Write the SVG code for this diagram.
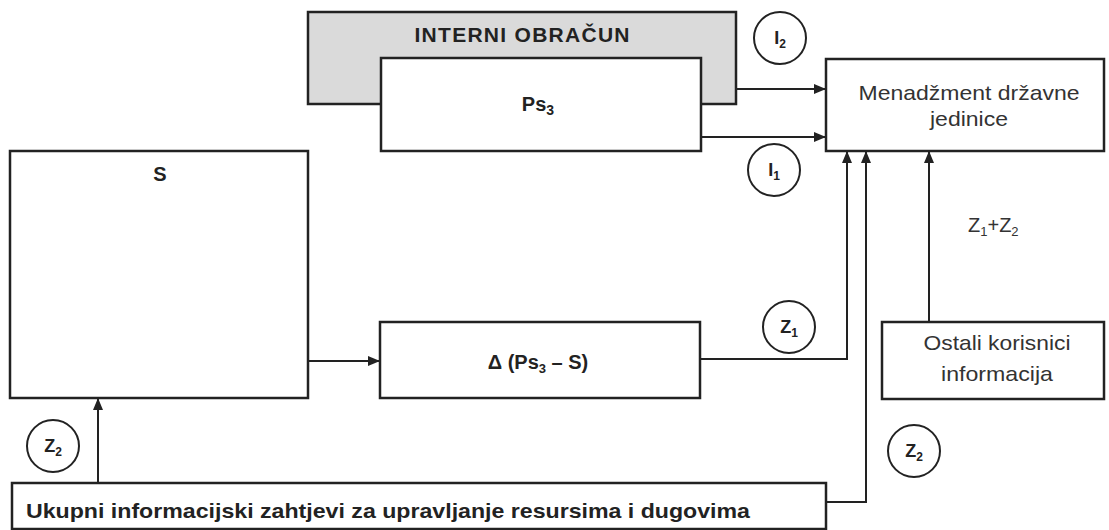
<svg xmlns="http://www.w3.org/2000/svg" width="1109" height="530" viewBox="0 0 1109 530">
<style>
.box{fill:#fff;stroke:#222;stroke-width:2.5}
.gray{fill:#dadada;stroke:#222;stroke-width:2.5}
.conn{fill:none;stroke:#222;stroke-width:2}
.circ{fill:#fff;stroke:#222;stroke-width:2}
.b{font-family:"Liberation Sans",Arial,sans-serif;font-weight:bold;fill:#222}
.r{font-family:"Liberation Sans",Arial,sans-serif;fill:#333}
.c{font-family:"Liberation Sans",Arial,sans-serif;font-weight:bold;fill:#222;font-size:18px}
</style>
<defs>
<marker id="arr" markerUnits="userSpaceOnUse" markerWidth="12" markerHeight="10" refX="12" refY="5" orient="auto">
<path d="M0,0 L12,5 L0,10 z" fill="#222"/>
</marker>
</defs>
<rect width="1109" height="530" fill="#fff"/>
<g id="interni-obracun">
<rect class="gray" x="308" y="12" width="428" height="92"/>
<text class="b" x="522" y="42" font-size="21" text-anchor="middle" textLength="215" lengthAdjust="spacing">INTERNI OBRAČUN</text>
</g>
<g id="ps3">
<rect class="box" x="381" y="58" width="320" height="93"/>
<text class="b" x="538" y="111" font-size="20" text-anchor="middle">Ps<tspan font-size="14" dy="4">3</tspan></text>
</g>
<g id="menadzment">
<rect class="box" x="826" y="59" width="278" height="92"/>
<text class="r" x="969" y="100" font-size="21" text-anchor="middle" textLength="221" lengthAdjust="spacingAndGlyphs">Menadžment državne</text>
<text class="r" x="969" y="126" font-size="21" text-anchor="middle" textLength="78" lengthAdjust="spacingAndGlyphs">jedinice</text>
</g>
<g id="s">
<rect class="box" x="10" y="151" width="298" height="247"/>
<text class="b" x="160" y="181" font-size="20" text-anchor="middle">S</text>
</g>
<g id="delta">
<rect class="box" x="380" y="322" width="320" height="76"/>
<text class="b" x="538" y="369" font-size="20" text-anchor="middle">Δ (Ps<tspan font-size="13" dy="4">3</tspan><tspan dy="-4"> – S)</tspan></text>
</g>
<g id="ostali">
<rect class="box" x="882" y="322" width="222" height="77"/>
<text class="r" x="997" y="350" font-size="21" text-anchor="middle" textLength="147" lengthAdjust="spacingAndGlyphs">Ostali korisnici</text>
<text class="r" x="997" y="381" font-size="21" text-anchor="middle" textLength="112" lengthAdjust="spacingAndGlyphs">informacija</text>
</g>
<g id="ukupni">
<rect class="box" x="12" y="483" width="814" height="46"/>
<text class="b" x="26" y="518" font-size="21" textLength="724" lengthAdjust="spacingAndGlyphs">Ukupni informacijski zahtjevi za upravljanje resursima i dugovima</text>
</g>
<g id="connectors">
<path class="conn" d="M736,89 H826" marker-end="url(#arr)"/>
<path class="conn" d="M701,137 H826" marker-end="url(#arr)"/>
<path class="conn" d="M308,361 H380" marker-end="url(#arr)"/>
<path class="conn" d="M98,483 V398" marker-end="url(#arr)"/>
<path class="conn" d="M700,359 H847 V151" marker-end="url(#arr)"/>
<path class="conn" d="M826,502 H866 V151" marker-end="url(#arr)"/>
<path class="conn" d="M929,322 V151" marker-end="url(#arr)"/>
</g>
<g id="labels">
<circle class="circ" cx="780" cy="38" r="26"/>
<text class="c" x="780" y="44" text-anchor="middle">I<tspan font-size="12" dy="4">2</tspan></text>
<circle class="circ" cx="774" cy="170" r="26"/>
<text class="c" x="774" y="176" text-anchor="middle">I<tspan font-size="12" dy="4">1</tspan></text>
<circle class="circ" cx="789" cy="327" r="26"/>
<text class="c" x="789" y="333" text-anchor="middle">Z<tspan font-size="12" dy="4">1</tspan></text>
<circle class="circ" cx="53" cy="446" r="26"/>
<text class="c" x="53" y="452" text-anchor="middle">Z<tspan font-size="12" dy="4">2</tspan></text>
<circle class="circ" cx="914" cy="451" r="26"/>
<text class="c" x="914" y="457" text-anchor="middle">Z<tspan font-size="12" dy="4">2</tspan></text>
<text class="r" x="968" y="232" font-size="20">Z<tspan font-size="13" dy="4">1</tspan><tspan dy="-4">+Z</tspan><tspan font-size="13" dy="4">2</tspan></text>
</g>
</svg>
